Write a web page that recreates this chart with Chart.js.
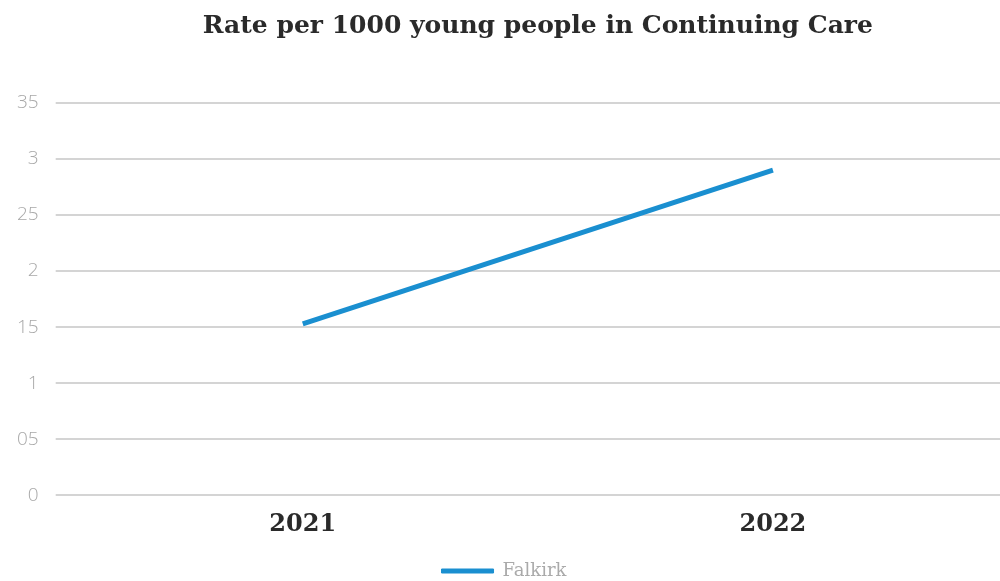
<!DOCTYPE html>
<html>
<head>
<meta charset="utf-8">
<script src="https://cdn.jsdelivr.net/npm/chart.js@4"></script>
<style>
    html, body { margin: 0; padding: 0; background: #fff; overflow: hidden; }
    #wrap { width: 1008px; height: 590px; position: relative; }
</style>
</head>
<body>
<div id="wrap"><canvas id="chart"></canvas></div>
<script>
var years = ['2021', '2022'];
var falkirk = [1.53, 2.9];
var yTickLabels = ['0', '05', '1', '15', '2', '25', '3', '35'];

function CreateRateChart(element) {
    var data = {
        labels: years,
        datasets: [{
            label: 'Falkirk',
            data: falkirk,
            borderColor: 'rgb(26, 143, 208)',
            backgroundColor: 'rgb(26, 143, 208)',
            borderWidth: 5,
            pointRadius: 0,
            tension: 0
        }]
    };

    var config = {
        type: 'line',
        data: data,
        options: {
            responsive: true,
            maintainAspectRatio: false,
            animation: false,
            layout: { padding: 0 },
            scales: {
                x: {
                    offset: true,
                    grid: { display: false },
                    border: { display: false },
                    ticks: {
                        color: '#2a2a2a',
                        padding: 7,
                        font: { family: 'DejaVu Serif', size: 24, weight: 'bold' }
                    },
                    // keep some room between the year labels and the legend
                    afterFit: function (scale) {
                        scale.height += 15;
                    }
                },
                y: {
                    min: 0,
                    max: 3.5,
                    grid: {
                        color: '#d4d4d4',
                        lineWidth: 2,
                        tickLength: 12,
                        drawTicks: true
                    },
                    border: { display: false },
                    ticks: {
                        stepSize: 0.5,
                        padding: 17,
                        color: '#a8a8a8',
                        font: { family: 'Open Sans', size: 19, weight: '300' },
                        callback: function (value, index) {
                            return yTickLabels[index];
                        }
                    }
                }
            },
            plugins: {
                title: {
                    display: true,
                    fullSize: false,
                    text: 'Rate per 1000 young people in Continuing Care',
                    color: '#2a2a2a',
                    font: { family: 'DejaVu Serif', size: 25, weight: 'bold' },
                    padding: { top: 11, bottom: 62 }
                },
                legend: {
                    display: true,
                    position: 'bottom',
                    labels: {
                        boxWidth: 52,
                        boxHeight: 4,
                        color: '#aaa',
                        padding: 1,
                        font: { family: 'DejaVu Serif', size: 18 },
                        generateLabels: function (chart) {
                            var items = Chart.defaults.plugins.legend.labels.generateLabels(chart);
                            items.forEach(function (item) { item.lineWidth = 1; });
                            return items;
                        }
                    }
                },
                tooltip: { enabled: false }
            }
        }
    };

    var ctx = document.querySelector(element);
    return new Chart(ctx, config);
}

CreateRateChart('#chart');
</script>
</body>
</html>
